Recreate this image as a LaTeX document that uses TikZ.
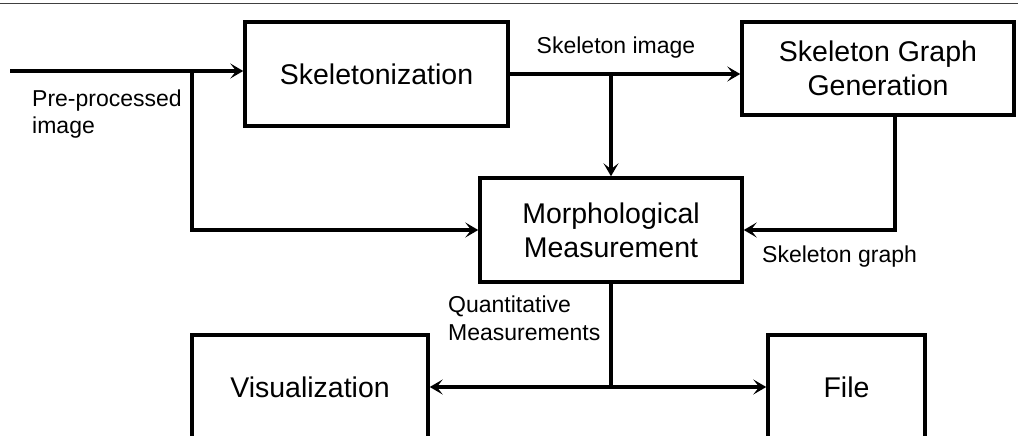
\documentclass[tikz,border=0pt]{standalone}
\usepackage{fontspec}
\setmainfont{Liberation Sans}
\usetikzlibrary{arrows.meta}
\begin{document}
\begin{tikzpicture}[x=1pt,y=-1pt,
  box/.style={draw, line width=3.5pt, inner sep=0pt, align=center, font=\fontsize{28.5}{34}\selectfont},
  lbl/.style={font=\fontsize{23}{27.6}\selectfont, inner sep=0pt, align=left},
  arr/.style={-{Stealth[length=13pt,width=15pt,inset=6pt]}, line width=3.2pt},
  ln/.style={line width=3.2pt}]
\useasboundingbox (0,0) rectangle (1018,436);
\clip (0,0) rectangle (1018,436);
\draw[line width=1.5pt, draw=black!75] (0,3.3) -- (1018,3.3);

\node[box, minimum width=263pt, minimum height=104pt] (skel) at (376.5,74) {\raisebox{-4pt}{Skeletonization}};
\node[box, minimum width=272pt, minimum height=93pt] (sgg) at (878,68.5) {Skeleton Graph\\Generation};
\node[box, minimum width=262pt, minimum height=104pt] (morph) at (611,230) {Morphological\\Measurement};
\node[box, minimum width=236pt, minimum height=104pt] (vis) at (310,387) {Visualization};
\node[box, minimum width=157pt, minimum height=104pt] (file) at (846.5,387) {File};

\coordinate (in) at (10,71);
\coordinate (br1) at (192,71);
\draw[arr] (in) -- (skel.west |- in);
\draw[arr] (br1) |- (morph.west);
\draw[arr] (skel.east) -- (sgg.west |- skel.east);
\draw[arr] (morph.north |- skel.east) -- (morph.north);
\draw[arr] ([xshift=17pt]sgg.south) |- (morph.east);
\draw[ln] (morph.south) -- (morph.south |- vis.east);
\draw[arr] (morph.south |- vis.east) -- (vis.east);
\draw[arr] (morph.south |- vis.east) -- (file.west);

\node[lbl, anchor=west] (pre) at (32,114) {Pre-processed\\image};
\node[lbl, anchor=base] (si) at (616,54) {Skeleton image};
\node[lbl, anchor=base west] (sg) at (762,262) {Skeleton graph};
\node[lbl, anchor=west] (qm) at (448,318) {Quantitative\\Measurements};
\end{tikzpicture}
\end{document}
